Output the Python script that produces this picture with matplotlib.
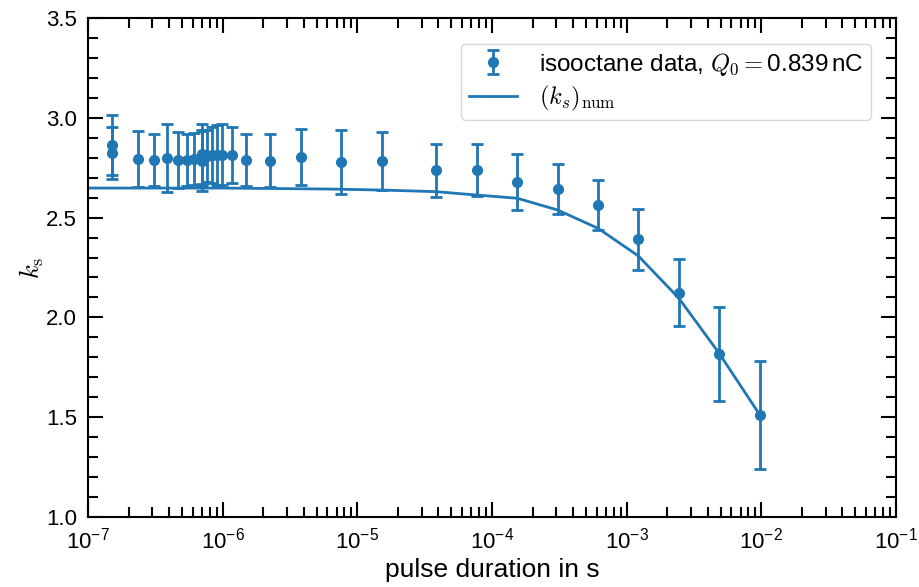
import numpy as np
import matplotlib
matplotlib.use('Agg')
import matplotlib.pyplot as plt
from matplotlib.ticker import LogLocator, MultipleLocator, NullFormatter, FormatStrFormatter

plt.rcParams['font.family'] = ['Liberation Sans', 'DejaVu Sans']
plt.rcParams['mathtext.fontset'] = 'cm'


# measured stretching factor vs. pulse duration
pulse = np.array([
    1.5e-7, 1.5e-7, 2.34e-7, 3.1e-7, 3.88e-7, 4.63e-7, 5.41e-7, 6.12e-7,
    6.98e-7, 6.98e-7, 6.98e-7, 7.6e-7, 8.28e-7, 9.0e-7, 9.8e-7, 1.17e-6,
    1.48e-6, 2.25e-6, 3.8e-6, 7.6e-6, 1.53e-5, 3.83e-5, 7.7e-5, 1.54e-4,
    3.07e-4, 6.14e-4, 1.22e-3, 2.44e-3, 4.86e-3, 9.75e-3,
])
ks = np.array([
    2.864, 2.822, 2.794, 2.789, 2.797, 2.789, 2.789, 2.794,
    2.82, 2.80, 2.785, 2.81, 2.814, 2.814, 2.816, 2.814,
    2.789, 2.784, 2.804, 2.78, 2.785, 2.737, 2.738, 2.68,
    2.643, 2.563, 2.391, 2.124, 1.817, 1.511,
])
ks_err = np.array([
    0.15, 0.13, 0.14, 0.13, 0.17, 0.14, 0.13, 0.13,
    0.15, 0.14, 0.15, 0.13, 0.14, 0.15, 0.155, 0.14,
    0.13, 0.133, 0.14, 0.16, 0.146, 0.132, 0.132, 0.14,
    0.125, 0.124, 0.153, 0.167, 0.234, 0.272,
])

# numerical result
pulse_num = np.array([
    1e-7, 1e-6, 6.3e-6, 1.53e-5, 3.83e-5, 7.7e-5, 1.54e-4,
    3.07e-4, 6.14e-4, 1.22e-3, 2.44e-3, 4.86e-3, 9.75e-3,
])
ks_num = np.array([
    2.648, 2.648, 2.643, 2.638, 2.630, 2.613, 2.597,
    2.538, 2.446, 2.308, 2.096, 1.82, 1.511,
])

fig = plt.figure(figsize=(9.19, 5.87), dpi=100)
ax = fig.add_axes([0.0958, 0.1193, 0.975 - 0.0958, 0.9693 - 0.1193])

data = ax.errorbar(pulse, ks, yerr=ks_err, fmt='o', color='C0', ms=7,
                   elinewidth=2, capsize=4.5, capthick=2,
                   label=r'isooctane data, $Q_0 = \mathdefault{0.839}\,$nC')
num, = ax.plot(pulse_num, ks_num, color='C0', lw=2,
               label=r'$(k_s)_\mathrm{num}$')

ax.set_xscale('log')
ax.set_xlim(1e-7, 1e-1)
ax.set_ylim(1.0, 3.5)
ax.xaxis.set_major_locator(LogLocator(base=10, numticks=10))
ax.xaxis.set_minor_locator(LogLocator(base=10, subs=np.arange(2, 10), numticks=100))
ax.xaxis.set_minor_formatter(NullFormatter())
ax.yaxis.set_major_locator(MultipleLocator(0.5))
ax.yaxis.set_minor_locator(MultipleLocator(0.1))
ax.yaxis.set_major_formatter(FormatStrFormatter('%.1f'))

ax.tick_params(which='both', direction='in', top=True, right=True,
               labelsize=16, width=1.5)
ax.tick_params(which='major', length=11)
ax.tick_params(which='minor', length=7.5)
ax.tick_params(axis='x', which='major', pad=8)
ax.tick_params(axis='y', which='major', pad=8)
for s in ax.spines.values():
    s.set_linewidth(1.5)

ax.set_xlabel('pulse duration in s', fontsize=19, labelpad=3)
ax.set_ylabel(r'$k_\mathrm{s}$', fontsize=19, labelpad=0)

ax.legend(handles=[data, num], loc='upper right', fontsize=17.5,
          borderaxespad=1.05, labelspacing=0.25, borderpad=0.3,
          handletextpad=0.9)

fig.savefig('out.png', dpi=100)
